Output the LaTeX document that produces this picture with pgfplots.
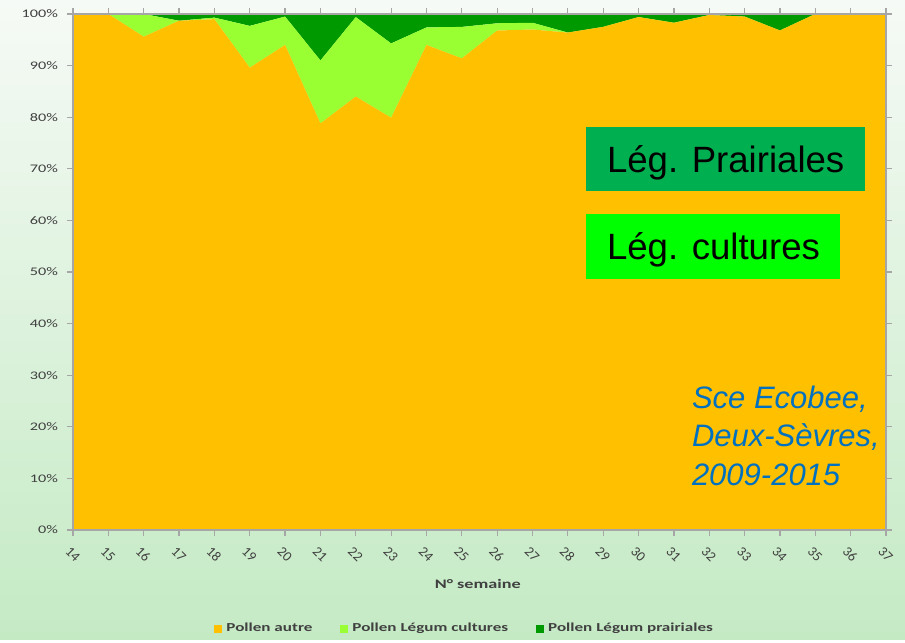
\documentclass[border=0pt]{standalone}
\usepackage{fontspec}
\setmainfont{Carlito}
\newfontfamily\arial{Liberation Sans}
\usepackage{graphicx}
\usepackage{pgfplots}
\usepackage{pgfplotstable}
\pgfplotsset{compat=1.18}
\definecolor{cYel}{HTML}{FFC000}
\definecolor{cLight}{HTML}{99FF33}
\definecolor{cDark}{HTML}{009900}
\definecolor{boxA}{HTML}{00B050}
\definecolor{boxB}{HTML}{00FF00}
\definecolor{blueT}{HTML}{0070C0}
\definecolor{bgTop}{HTML}{F6FAF6}
\definecolor{bgBot}{HTML}{C4EAC4}
\definecolor{axgrey}{HTML}{A6A6A6}
\definecolor{txgrey}{HTML}{404040}
\pgfplotstableread{
week autre cult prair
14 100 0 0
15 100 0 0
16 95.6 4.4 0
17 98.7 0 1.3
18 99.0 0.3 0.7
19 89.6 8.1 2.3
20 94.0 5.5 0.5
21 78.8 12.2 9.0
22 84.0 15.4 0.6
23 79.9 14.4 5.7
24 94.0 3.4 2.6
25 91.4 6.1 2.5
26 96.8 1.4 1.8
27 97.0 1.3 1.7
28 96.4 0 3.6
29 97.5 0 2.5
30 99.4 0 0.6
31 98.3 0 1.7
32 99.8 0 0.2
33 99.5 0 0.5
34 96.8 0 3.2
35 100 0 0
36 100 0 0
37 100 0 0
}\datatable
\begin{document}
\begin{tikzpicture}
\fill[top color=bgTop, bottom color=bgBot] (0,0) rectangle (452.5pt,319.5pt);
\begin{axis}[
  at={(36.5pt,54.5pt)}, anchor=south west,
  scale only axis, width=406.5pt, height=258pt,
  xmin=14, xmax=37, ymin=0, ymax=100,
  xtick={14,...,37}, ytick={0,10,...,100},
  stack plots=y, area style,
  axis on top,
  axis line style={axgrey, line width=0.8pt},
  tick style={axgrey, line width=0.6pt},
  tick align=outside, major tick length=3pt,
  /pgf/number format/assume math mode=true,
  yticklabel={\scalebox{1.4}[1]{\pgfmathprintnumber{\tick}\%}},
  yticklabel style={font=\fontsize{5.8}{6}\selectfont, text=txgrey, xshift=-1pt},
  xticklabel style={font=\fontsize{7}{7}\selectfont, text=txgrey, rotate=-45, anchor=north west, inner sep=1pt, xshift=1.5pt, yshift=-3pt},
  xlabel={\scalebox{1.4}[1]{N° semaine}},
  xlabel style={font=\bfseries\fontsize{6.5}{7}\selectfont, text=txgrey, at={(axis description cs:0.498,-0.1047)}, anchor=center},
  legend columns=3,
  legend image code/.code={\fill[#1] (0pt,-2pt) rectangle (4pt,2pt);},
  legend style={draw=none, fill=none, at={(0.483,-0.192)}, anchor=center,
    font=\bfseries\fontsize{6.1}{7}\selectfont, text=txgrey,
    /tikz/every even column/.append style={column sep=12pt}},
]
\addplot[fill=cYel, draw=none] table[x=week, y=autre] {\datatable} \closedcycle;
\addlegendentry{\scalebox{1.4}[1]{Pollen autre}}
\addplot[fill=cLight, draw=none] table[x=week, y=cult] {\datatable} \closedcycle;
\addlegendentry{\scalebox{1.4}[1]{Pollen Légum cultures}}
\addplot[fill=cDark, draw=none] table[x=week, y=prair] {\datatable} \closedcycle;
\addlegendentry{\scalebox{1.4}[1]{Pollen Légum prairiales}}
\end{axis}
\fill[boxA] (293pt,224pt) rectangle (432.5pt,256pt);
\node[anchor=base west, inner sep=0pt, font=\arial\fontsize{18.3}{20}\selectfont] at (303.3pt,233.2pt) {Lég. Prairiales};
\fill[boxB] (293pt,180.2pt) rectangle (420pt,212.5pt);
\node[anchor=base west, inner sep=0pt, font=\arial\fontsize{18.3}{20}\selectfont] at (303.3pt,189.8pt) {Lég. cultures};
\node[anchor=base west, inner sep=0pt, text=blueT, font=\arial\itshape\fontsize{15.5}{18}\selectfont] at (345.8pt,115.3pt) {Sce Ecobee,};
\node[anchor=base west, inner sep=0pt, text=blueT, font=\arial\itshape\fontsize{15.5}{18}\selectfont] at (345.8pt,96.2pt) {Deux-Sèvres,};
\node[anchor=base west, inner sep=0pt, text=blueT, font=\arial\itshape\fontsize{15.5}{18}\selectfont] at (345.8pt,77pt) {2009-2015};
\end{tikzpicture}
\end{document}
